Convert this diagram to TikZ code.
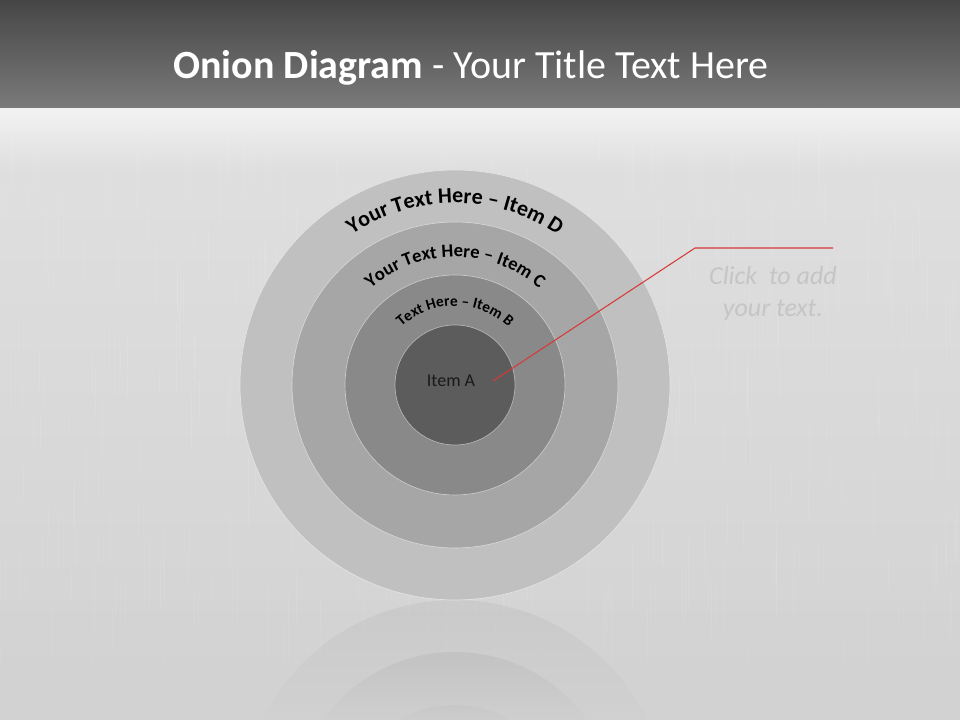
\documentclass[tikz,border=0pt]{standalone}
\usepackage{fontspec}
\setmainfont{Carlito}
\usetikzlibrary{positioning}
\usetikzlibrary{calc}
\usetikzlibrary{fadings}
\usetikzlibrary{decorations.text}

\definecolor{barTop}{RGB}{70,70,70}
\definecolor{barBot}{RGB}{122,122,122}
\definecolor{bgTop}{RGB}{224,224,224}
\definecolor{bgBot}{RGB}{210,210,210}
\definecolor{ringD}{RGB}{192,192,192}
\definecolor{ringC}{RGB}{166,166,166}
\definecolor{ringB}{RGB}{137,137,137}
\definecolor{ringA}{RGB}{92,92,92}
\definecolor{leader}{RGB}{214,58,58}
\definecolor{hint}{RGB}{197,197,197}

\tikzfading[name=fadedown,top color=transparent!100,bottom color=transparent!10]
\tikzfading[name=glow,top color=transparent!40,bottom color=transparent!100]

\begin{document}
\begin{tikzpicture}[x=0.75pt,y=0.75pt,
  layer/.style={fill=#1,draw=white!55!#1,line width=0.5pt},
  ghost/.style={fill=#1,opacity=0.45},
  ringtext/.style={decorate,decoration={text along path,text align=center,text={#1}}},
  titletext/.style={text=white,font=\fontsize{30}{35}\selectfont},
  itemtext/.style={text=black!90,font=\fontsize{13.5}{15}\selectfont},
  hinttext/.style={text=hint,align=center,font=\fontsize{19.5}{24}\selectfont\itshape}]
  \useasboundingbox (0,0) rectangle (960,720);
  %background
  \shade[top color=bgTop,bottom color=bgBot] (0,0) rectangle (960,612);
  \fill[white,path fading=glow] (0,550) rectangle (960,612);
  \pgfmathsetseed{11}
  \foreach \k in {1,...,400}{
    \pgfmathsetmacro\xx{960*rnd}
    \pgfmathsetmacro\yy{40+570*rnd}
    \draw[white,opacity=0.09,line width=0.3pt] (\xx,\yy) -- ++(0,-20-50*rnd);
  }
  %title bar
  \shade[top color=barTop,bottom color=barBot] (0,612) rectangle (960,720);
  \node[titletext] (title) at (471,652) {\textbf{Onion Diagram} - Your Title Text Here};

  %reflection
  \coordinate (mirror) at (455,-95);
  \begin{scope}
    \clip (0,0) rectangle (960,600);
    \fill[ghost=ringD] (mirror) circle[radius=215];
    \fill[ghost=ringC] (mirror) circle[radius=163];
    \fill[ghost=ringB] (mirror) circle[radius=110];
    \fill[ghost=ringA] (mirror) circle[radius=60];
  \end{scope}
  \fill[bgBot,path fading=fadedown] (0,0) rectangle (960,121);

  %onion
  \coordinate (ctr) at (455,335);
  \filldraw[layer=ringD] (ctr) circle[radius=215];
  \filldraw[layer=ringC] (ctr) circle[radius=163];
  \filldraw[layer=ringB] (ctr) circle[radius=110];
  \filldraw[layer=ringA] (ctr) circle[radius=60];
  \path[ringtext={|\fontsize{16.5}{19}\selectfont\bfseries|Your Text Here – Item D}]
    ($(ctr)+(165:182)$) arc[start angle=165,end angle=15,radius=182];
  \path[ringtext={|\fontsize{14}{16}\selectfont\bfseries|Your Text Here – Item C}]
    ($(ctr)+(170:128)$) arc[start angle=170,end angle=10,radius=128];
  \path[ringtext={|\fontsize{11.5}{13}\selectfont\bfseries|Text Here – Item B}]
    ($(ctr)+(175:79)$) arc[start angle=175,end angle=5,radius=79];
  \node[itemtext] (itemA) at (451,339) {Item A};

  %callout
  \coordinate (pin) at (493,339);
  \coordinate (bend) at (695,472);
  \coordinate (tail) at (833,472);
  \draw[leader,line width=0.8pt] (pin) -- (bend) -- (tail);
  \node[hinttext] (hint) at (773,426) {Click\ \ to add\\your text.};
\end{tikzpicture}
\end{document}
